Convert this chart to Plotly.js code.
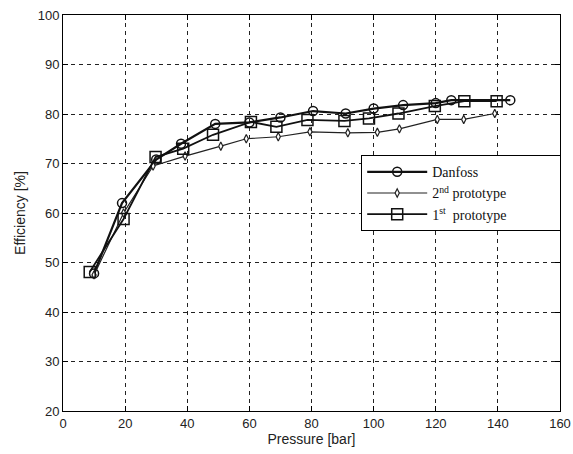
<!DOCTYPE html>
<html>
<head>
<meta charset="utf-8">
<script src="https://cdn.plot.ly/plotly-3.0.1.min.js"></script>
<style>html,body{margin:0;padding:0;background:#fff;}#chart{width:573px;height:454px;}</style>
</head>
<body>
<div id="chart"></div>
<script>
var danfossX = [10, 19, 30, 38, 49, 60, 70, 80.5, 91, 100, 109.5, 120, 125, 144];
var danfossY = [47.8, 62, 70.8, 74, 78, 78.3, 79.3, 80.6, 80.1, 81.1, 81.8, 82.2, 82.8, 82.8];

var proto2X = [10, 19.5, 29, 39.3, 50.8, 59, 69.3, 79.5, 91.7, 101.2, 108.3, 120.5, 129, 139];
var proto2Y = [47.5, 60, 69.5, 71.5, 73.5, 75, 75.4, 76.4, 76.2, 76.3, 77, 78.9, 78.9, 80.1];

var proto1X = [8.6, 19.5, 29.8, 38.7, 48.3, 60.5, 68.7, 78.7, 90.6, 98.5, 108, 119.7, 129.2, 139.6];
var proto1Y = [48.1, 58.8, 71.3, 73, 75.8, 78.4, 77.4, 78.8, 78.6, 79.1, 80.1, 81.6, 82.6, 82.6];

var seriesNames = ['Danfoss', '2<sup>nd</sup> prototype', '1<sup>st</sup>  prototype'];
var xTicks = [0, 20, 40, 60, 80, 100, 120, 140, 160];
var yTicks = [20, 30, 40, 50, 60, 70, 80, 90, 100];

var pad = '';
for (var i = 0; i < 22; i++) pad += '&nbsp;';

var traces = [
  {x: danfossX, y: danfossY, name: seriesNames[0] + pad, mode: 'lines+markers',
   line: {color: '#111', width: 2.2},
   marker: {symbol: 'circle-open', size: 9, color: '#111', line: {width: 1.5}}},
  {x: proto2X, y: proto2Y, name: seriesNames[1], mode: 'lines+markers',
   line: {color: '#222', width: 1.2},
   marker: {symbol: 'diamond-tall', size: 6, color: '#fff', line: {color: '#222', width: 1.2}}},
  {x: proto1X, y: proto1Y, name: seriesNames[2], mode: 'lines+markers',
   line: {color: '#111', width: 1.8},
   marker: {symbol: 'square-open', size: 11, color: '#111', line: {width: 1.5}}}
];

var axisCommon = {
  showline: true, linecolor: '#000', linewidth: 1, mirror: 'ticks',
  ticks: 'inside', ticklen: 5, tickcolor: '#000',
  showgrid: true, gridcolor: '#222', gridwidth: 1, griddash: '4px,4px',
  zeroline: false, ticklabeloverflow: 'allow',
  tickfont: {family: 'Liberation Sans, Arial, sans-serif', size: 13, color: '#222'}
};

var layout = {
  width: 573, height: 454,
  margin: {l: 63, r: 13, t: 15, b: 43},
  paper_bgcolor: '#fff', plot_bgcolor: '#fff',
  showlegend: true,
  legend: {
    x: 0.60, y: 0.646, xanchor: 'left', yanchor: 'top',
    bgcolor: '#fff', bordercolor: '#000', borderwidth: 1,
    font: {family: 'Liberation Serif, Times New Roman, serif', size: 14, color: '#111'},
    itemwidth: 60, tracegroupgap: 0
  },
  xaxis: Object.assign({}, axisCommon, {
    range: [0, 160], tickvals: xTicks, ticktext: xTicks.map(String),
    title: {text: 'Pressure [bar]', standoff: 4,
      font: {family: 'Liberation Sans, Arial, sans-serif', size: 14, color: '#222'}}
  }),
  yaxis: Object.assign({}, axisCommon, {
    range: [20, 100], tickvals: yTicks, ticktext: yTicks.map(String),
    title: {text: 'Efficiency [%]', standoff: 8,
      font: {family: 'Liberation Sans, Arial, sans-serif', size: 14, color: '#222'}}
  })
};

Plotly.newPlot('chart', traces, layout, {displayModeBar: false, staticPlot: true});
</script>
</body>
</html>
